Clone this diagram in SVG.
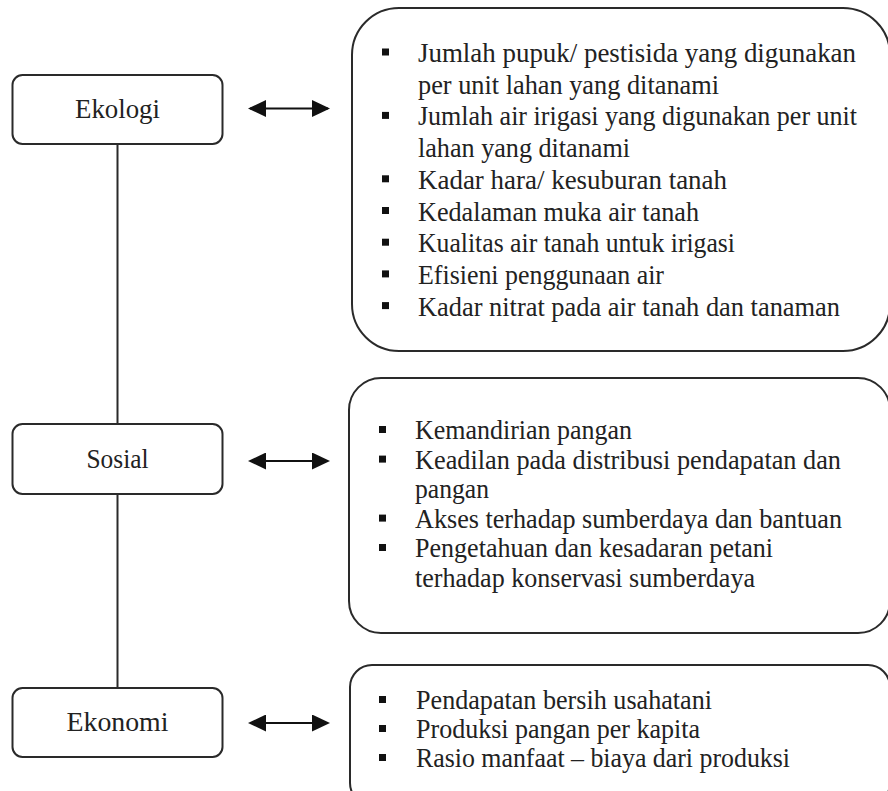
<svg xmlns="http://www.w3.org/2000/svg" width="888" height="791" viewBox="0 0 888 791">
  <style>
    .box { fill: #ffffff; stroke: #2a2a2a; stroke-width: 2; }
    .label { font-family: "Liberation Serif", "Times New Roman", serif; font-size: 26.5px; fill: #222; text-anchor: middle; }
    .item { font-family: "Liberation Serif", "Times New Roman", serif; font-size: 27.5px; fill: #222; }
    .bullet { fill: #111; }
    .link { stroke: #2a2a2a; stroke-width: 2; fill: none; }
    .arrow { stroke: #111; stroke-width: 2.2; fill: none; marker-start: url(#head); marker-end: url(#head); }
  </style>
  <defs>
    <marker id="head" viewBox="0 0 18 17" markerUnits="userSpaceOnUse" markerWidth="18" markerHeight="17" refX="16" refY="8.5" orient="auto-start-reverse">
      <path d="M0,0 L18,8.5 L0,17 z" fill="#111"/>
    </marker>
  </defs>
  <rect width="888" height="791" fill="#ffffff"/>

  <!-- vertical spine and double-headed arrows -->
  <g id="connectors">
    <line class="link" x1="117.5" y1="144" x2="117.5" y2="424"/>
    <line class="link" x1="117.5" y1="494" x2="117.5" y2="688"/>
    <line class="arrow" x1="250" y1="108.5" x2="328" y2="108.5"/>
    <line class="arrow" x1="250" y1="461" x2="328" y2="461"/>
    <line class="arrow" x1="250" y1="723" x2="328" y2="723"/>
  </g>

  <g id="ekologi">
    <rect class="box" x="12.5" y="75" width="210" height="69" rx="10"/>
    <text class="label" x="117.5" y="118" textLength="85" lengthAdjust="spacingAndGlyphs">Ekologi</text>
  </g>

  <g id="sosial">
    <rect class="box" x="12.5" y="424" width="210" height="70" rx="10"/>
    <text class="label" x="117.5" y="468" textLength="62" lengthAdjust="spacingAndGlyphs">Sosial</text>
  </g>

  <g id="ekonomi">
    <rect class="box" x="12.5" y="688" width="210" height="69" rx="10"/>
    <text class="label" x="117.5" y="731" textLength="102" lengthAdjust="spacingAndGlyphs">Ekonomi</text>
  </g>

  <g id="indikator-ekologi">
    <rect class="box" x="352" y="8" width="538" height="343" rx="47"/>
    <rect class="bullet" x="382" y="48.5" width="7" height="7"/>
    <text class="item" x="418" y="62" textLength="438" lengthAdjust="spacingAndGlyphs">Jumlah pupuk/ pestisida yang digunakan</text>
    <text class="item" x="418" y="93.7" textLength="301" lengthAdjust="spacingAndGlyphs">per unit lahan yang ditanami</text>
    <rect class="bullet" x="382" y="111.9" width="7" height="7"/>
    <text class="item" x="418" y="125.4" textLength="439" lengthAdjust="spacingAndGlyphs">Jumlah air irigasi yang digunakan per unit</text>
    <text class="item" x="418" y="157.1" textLength="212" lengthAdjust="spacingAndGlyphs">lahan yang ditanami</text>
    <rect class="bullet" x="382" y="175.3" width="7" height="7"/>
    <text class="item" x="418" y="188.8" textLength="309" lengthAdjust="spacingAndGlyphs">Kadar hara/ kesuburan tanah</text>
    <rect class="bullet" x="382" y="207" width="7" height="7"/>
    <text class="item" x="418" y="220.5" textLength="281" lengthAdjust="spacingAndGlyphs">Kedalaman muka air tanah</text>
    <rect class="bullet" x="382" y="238.7" width="7" height="7"/>
    <text class="item" x="418" y="252.2" textLength="317" lengthAdjust="spacingAndGlyphs">Kualitas air tanah untuk irigasi</text>
    <rect class="bullet" x="382" y="270.4" width="7" height="7"/>
    <text class="item" x="418" y="283.9" textLength="246" lengthAdjust="spacingAndGlyphs">Efisieni penggunaan air</text>
    <rect class="bullet" x="382" y="302.1" width="7" height="7"/>
    <text class="item" x="418" y="315.6" textLength="422" lengthAdjust="spacingAndGlyphs">Kadar nitrat pada air tanah dan tanaman</text>
  </g>

  <g id="indikator-sosial">
    <rect class="box" x="349" y="378" width="541" height="255" rx="32"/>
    <rect class="bullet" x="379" y="426" width="7" height="7"/>
    <text class="item" x="415" y="439" textLength="217" lengthAdjust="spacingAndGlyphs">Kemandirian pangan</text>
    <rect class="bullet" x="379" y="455.6" width="7" height="7"/>
    <text class="item" x="415" y="468.6" textLength="426" lengthAdjust="spacingAndGlyphs">Keadilan pada distribusi pendapatan dan</text>
    <text class="item" x="415" y="498" textLength="74" lengthAdjust="spacingAndGlyphs">pangan</text>
    <rect class="bullet" x="379" y="514.6" width="7" height="7"/>
    <text class="item" x="415" y="527.6" textLength="427" lengthAdjust="spacingAndGlyphs">Akses terhadap sumberdaya dan bantuan</text>
    <rect class="bullet" x="379" y="544" width="7" height="7"/>
    <text class="item" x="415" y="557" textLength="358" lengthAdjust="spacingAndGlyphs">Pengetahuan dan kesadaran petani</text>
    <text class="item" x="415" y="586.6" textLength="340" lengthAdjust="spacingAndGlyphs">terhadap konservasi sumberdaya</text>
  </g>

  <g id="indikator-ekonomi">
    <rect class="box" x="350" y="665" width="540" height="140" rx="22"/>
    <rect class="bullet" x="379" y="696" width="7" height="7"/>
    <text class="item" x="416" y="709" textLength="296" lengthAdjust="spacingAndGlyphs">Pendapatan bersih usahatani</text>
    <rect class="bullet" x="379" y="725" width="7" height="7"/>
    <text class="item" x="416" y="738" textLength="284" lengthAdjust="spacingAndGlyphs">Produksi pangan per kapita</text>
    <rect class="bullet" x="379" y="754" width="7" height="7"/>
    <text class="item" x="416" y="767" textLength="374" lengthAdjust="spacingAndGlyphs">Rasio manfaat – biaya dari produksi</text>
  </g>
</svg>
